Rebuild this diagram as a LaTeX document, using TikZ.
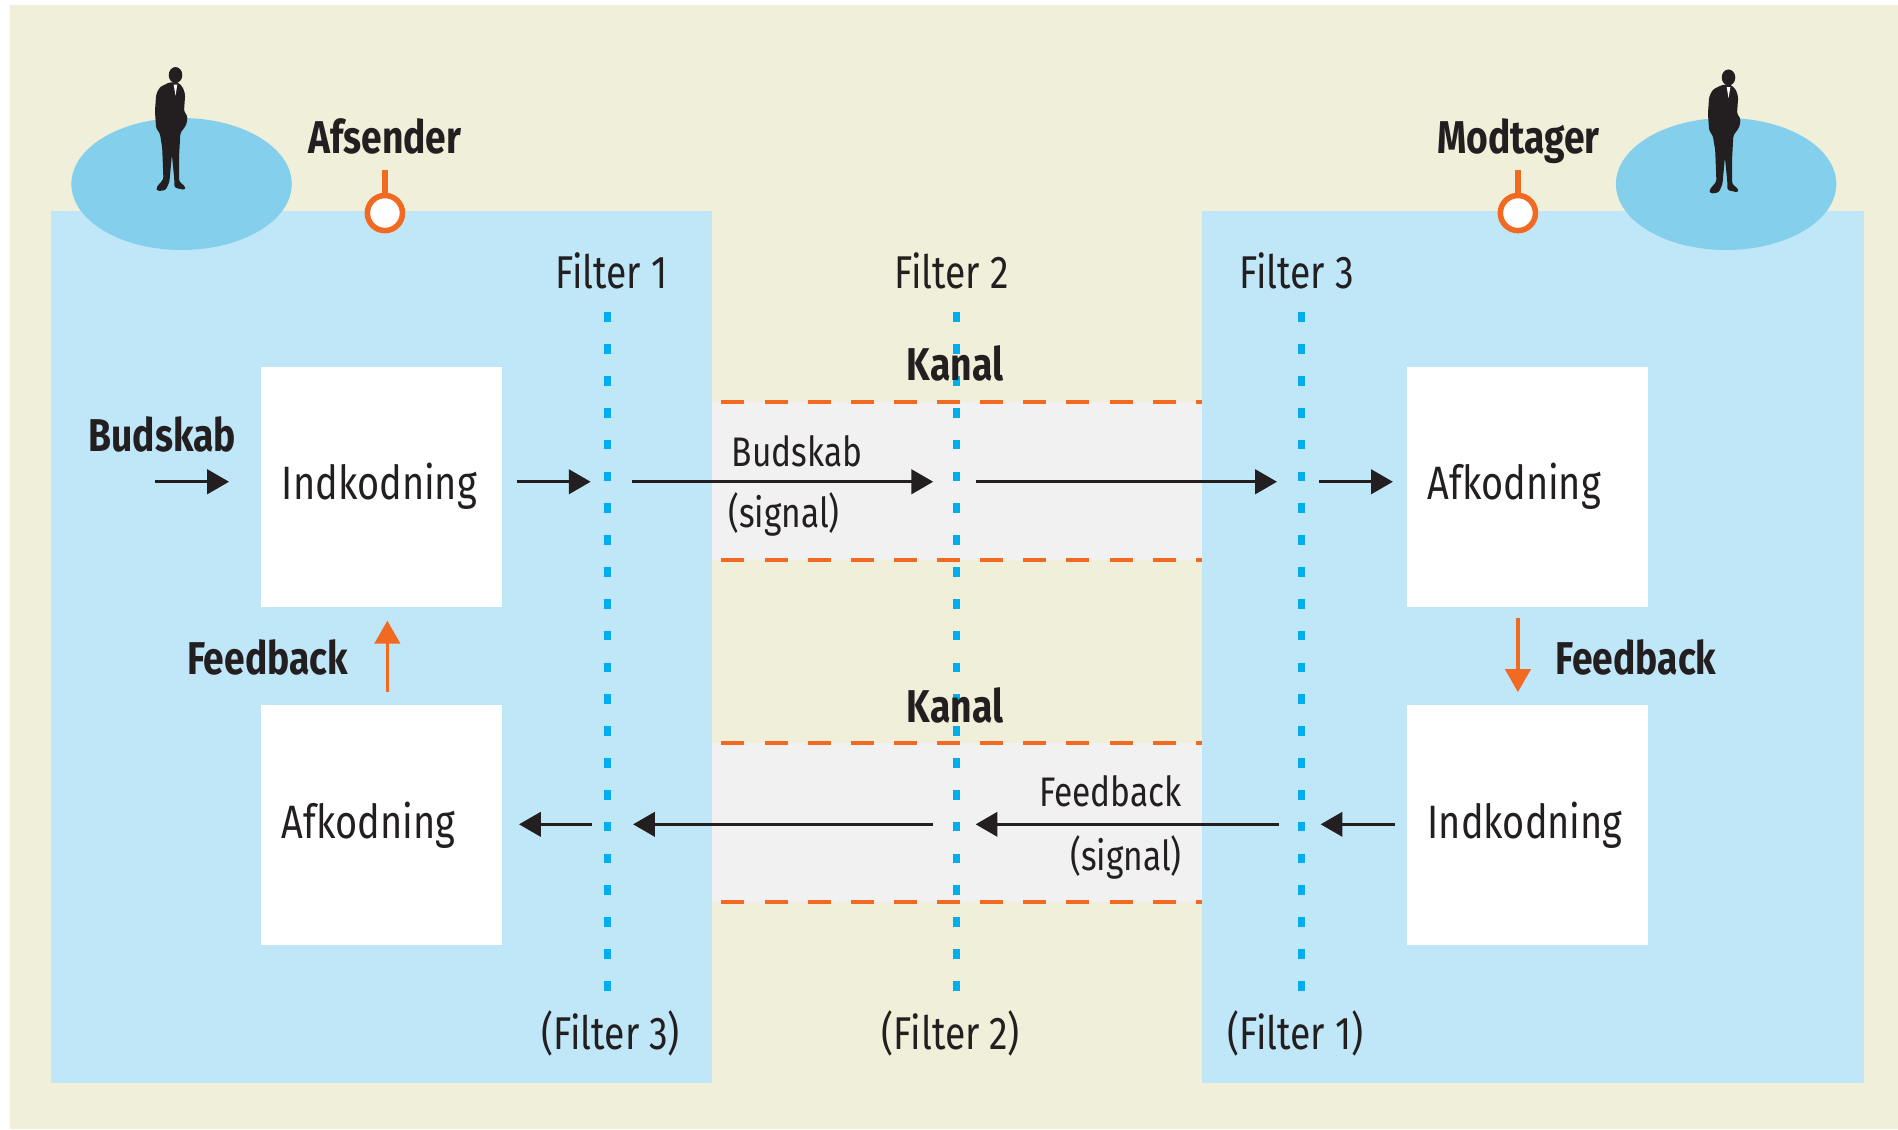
\documentclass[tikz,border=0pt]{standalone}
\usepackage{fontspec}
\setmainfont{Fira Sans}[FakeStretch=0.81]
\usepackage{tikz}
\usetikzlibrary{arrows.meta}
\definecolor{beige}{HTML}{F0EFDA}
\definecolor{panelblaa}{HTML}{BFE7F8}
\definecolor{ovalblaa}{HTML}{84D0EC}
\definecolor{filtercyan}{HTML}{00AEEF}
\definecolor{kanalorange}{HTML}{F26A21}
\definecolor{kanalgraa}{HTML}{F1F1F1}
\definecolor{sort}{HTML}{231F20}
\tikzstyle{panel}=[fill=panelblaa]
\tikzstyle{boks}=[fill=white, minimum width=1.99cm, minimum height=1.98cm, text width=1.65cm, align=left, inner sep=0pt, text=sort]
\tikzstyle{pil}=[draw=sort, line width=0.8pt, -{Triangle[length=0.18cm,width=0.2cm]}]
\tikzstyle{fbpil}=[draw=kanalorange, line width=0.75pt, -{Triangle[length=0.19cm,width=0.21cm]}]
\tikzstyle{filterlinje}=[draw=filtercyan, line width=1.6pt, dash pattern=on 2.28pt off 5.2pt]
\tikzstyle{kanallinje}=[draw=kanalorange, line width=0.95pt, dash pattern=on 5.4pt off 4.73pt]
\tikzstyle{overskrift}=[font=\fontsize{10.8}{13}\selectfont\bfseries, text=sort, inner sep=0pt]
\tikzstyle{etiket}=[font=\fontsize{10.8}{13}\selectfont, text=sort, inner sep=0pt]
\tikzstyle{signaltekst}=[font=\fontsize{9.7}{12}\selectfont, text=sort, inner sep=0pt]
\tikzstyle{pinring}=[circle, draw=kanalorange, fill=white, line width=1.3pt, minimum size=0.29cm, inner sep=0pt]
\newcommand{\personfigur}[1]{
	\begin{scope}[shift={#1}]
		\fill[sort] (4,-96) ellipse [x radius=0.056cm, y radius=0.066cm];
		\fill[sort, rounded corners=0.02cm] (-1,-90) -- (-9,-86) -- (-12,-80) -- (-13,-66) -- (-12,-52) -- (-9,-48) -- (-7,-36) -- (-6,-10) -- (-12,-3) -- (-11,0) -- (-4,-1) -- (-1,-8) -- (1,-30) -- (3,-10) -- (3,-3) -- (12,-1) -- (12,-4) -- (7,-8) -- (7,-30) -- (8,-48) -- (13,-55) -- (14,-62) -- (11,-66) -- (12,-80) -- (10,-86) -- (6,-90) -- cycle;
		\fill[white] (2.5,-88) -- (5.5,-88) -- (4,-79) -- cycle;
	\end{scope}
}

\begin{document}
\begin{tikzpicture}[x=0.01cm, y=-0.01cm, font=\fontsize{11}{13}\selectfont]
	\useasboundingbox (0,0) rectangle (1568,933);
	\fill[white] (0,0) rectangle (1568,933);
	\fill[beige] (8,4) rectangle (1568,933);
	\fill[panel] (42,174) rectangle (588,895);
	\fill[panel] (993,174) rectangle (1540,895);
	\fill[kanalgraa] (588,332) rectangle (993,463);
	\fill[kanalgraa] (588,614) rectangle (993,745);
	\draw[kanallinje] (596,332) -- (993,332);
	\draw[kanallinje] (596,463) -- (993,463);
	\draw[kanallinje] (596,614) -- (993,614);
	\draw[kanallinje] (596,745) -- (993,745);
	\fill[ovalblaa] (150,152) ellipse [x radius=0.91cm, y radius=0.545cm];
	\fill[ovalblaa] (1426,152) ellipse [x radius=0.91cm, y radius=0.545cm];
	\personfigur{(141,158)}
	\personfigur{(1424,160)}
	\node[pinring] (pinA) at (318,176) {};
	\draw[kanalorange, line width=1.3pt] (pinA.north) -- ++(0,-19);
	\node[pinring] (pinM) at (1254,176) {};
	\draw[kanalorange, line width=1.3pt] (pinM.north) -- ++(0,-19);
	\node[overskrift, anchor=base] (afsender) at (318,127) {Afsender};
	\node[overskrift, anchor=base] (modtager) at (1254.5,127) {Modtager};

	\node[boks] (indL) at (315.5,402) {Indkodning};
	\node[boks] (afkL) at (315.5,681.5) {Afkodning};
	\node[boks] (afkR) at (1262,402) {Afkodning};
	\node[boks] (indR) at (1262,681.5) {Indkodning};

	\foreach \x/\n in {502/1,790/2,1075/3}{
		\coordinate (f\n) at (\x,258);
		\draw[filterlinje] (f\n) -- (\x,819);
	}
	\node[etiket, anchor=base] (filterA) at (505,238) {Filter 1};
	\node[etiket, anchor=base] (filterB) at (786,238) {Filter 2};
	\node[etiket, anchor=base] (filterC) at (1071,238) {Filter 3};
	\node[etiket, anchor=base] (filterC') at (504.5,867) {(Filter 3)};
	\node[etiket, anchor=base] (filterB') at (785.5,867) {(Filter 2)};
	\node[etiket, anchor=base] (filterA') at (1070,867) {(Filter 1)};
	\node[overskrift, anchor=base] (kanalA) at (789,314) {Kanal};
	\node[overskrift, anchor=base] (kanalB) at (789,597) {Kanal};

	\coordinate (r1) at (0,398);
	\coordinate (r2) at (0,681);
	\coordinate (budstart) at (128,398);
	\node[overskrift, anchor=base] (budskab) at (134,373) {Budskab};
	\draw[pil, shorten >=0.26cm] (budstart) -- (indL.west |- r1);
	\draw[pil, shorten <=0.11cm, shorten >=0.14cm] (indL.east |- r1) -- (f1 |- r1);
	\draw[pil, shorten <=0.20cm, shorten >=0.19cm] (f1 |- r1) -- (f2 |- r1);
	\draw[pil, shorten <=0.16cm, shorten >=0.20cm] (f2 |- r1) -- (f3 |- r1);
	\draw[pil, shorten <=0.15cm, shorten >=0.11cm] (f3 |- r1) -- (afkR.west |- r1);
	\draw[pil, shorten <=0.09cm, shorten >=0.16cm] (indR.west |- r2) -- (f3 |- r2);
	\draw[pil, shorten <=0.18cm, shorten >=0.16cm] (f3 |- r2) -- (f2 |- r2);
	\draw[pil, shorten <=0.19cm, shorten >=0.21cm] (f2 |- r2) -- (f1 |- r2);
	\draw[pil, shorten <=0.13cm, shorten >=0.13cm] (f1 |- r2) -- (afkL.east |- r2);
	\node[signaltekst, anchor=base west] (budsignal) at (604,385) {Budskab};
	\node[signaltekst, anchor=base west] (budsignal2) at (601,436) {(signal)};
	\node[signaltekst, anchor=base east] (fbsignal) at (977,666) {Feedback};
	\node[signaltekst, anchor=base east] (fbsignal2) at (977,719) {(signal)};

	\draw[fbpil, shorten <=0.10cm, shorten >=0.11cm] ([xshift=0.045cm]afkL.north) -- ([xshift=0.045cm]indL.south);
	\draw[fbpil, shorten <=0.09cm, shorten >=0.10cm] ([xshift=-0.08cm]afkR.south) -- ([xshift=-0.08cm]indR.north);
	\node[overskrift, anchor=base] (feedbackA) at (221,557) {Feedback};
	\node[overskrift, anchor=base] (feedbackM) at (1351.5,557) {Feedback};
\end{tikzpicture}
\end{document}
